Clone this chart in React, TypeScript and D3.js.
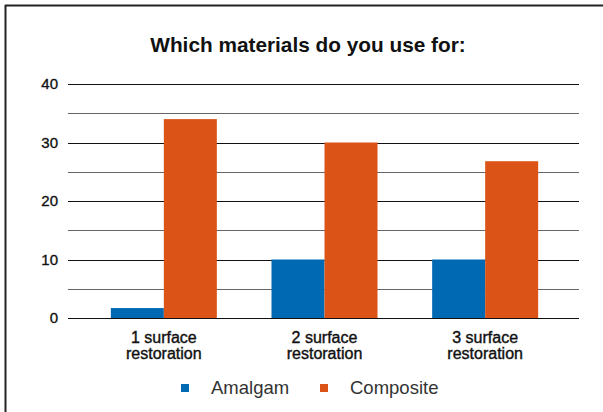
import React from "react";
import * as d3 from "d3";

const categories = ["1 surface|restoration", "2 surface|restoration", "3 surface|restoration"];
const seriesNames = ["Amalgam", "Composite"];
const amalgam = [1.7, 10, 10];
const composite = [34, 30, 26.8];
const yTicks = [0, 10, 20, 30, 40];
const gridValues = [0, 5, 10, 15, 20, 25, 30, 35, 40];
const colors = ["#0069b4", "#db5316"];

export default function App() {
  const W = 603, H = 412;
  const y = d3.scaleLinear().domain([0, 40]).range([318, 84]);
  const x0 = d3.scaleBand<string>().domain(categories).range([83.5, 565.5]).paddingInner(0).paddingOuter(0);
  const groupW = 106;
  const x1 = d3.scaleBand<string>().domain(seriesNames).range([0, groupW]).padding(0);
  const data = [amalgam, composite];
  const font = "'Liberation Sans', Arial, Helvetica, sans-serif";
  return (
    <svg width={W} height={H} style={{ position: "absolute", left: 0, top: 0, background: "#fff" }} fontFamily={font}>
      <line x1={5.5} y1={5} x2={5.5} y2={H} stroke="#222" strokeWidth={2} />
      <line x1={5} y1={5.5} x2={W} y2={5.5} stroke="#222" strokeWidth={2} />
      <text x={308} y={52} textAnchor="middle" fontSize={20.8} fontWeight="bold" fill="#111">
        Which materials do you use for:
      </text>
      {gridValues.map((v) => (
        <line key={v} x1={68} x2={579} y1={Math.round(y(v)) + 0.5} y2={Math.round(y(v)) + 0.5}
          stroke={v % 10 === 0 ? "#111" : "#666"} strokeWidth={1} />
      ))}
      {yTicks.map((v) => (
        <text key={v} x={58} y={y(v) + 5} textAnchor="end" fontSize={15} fill="#111" stroke="#111" strokeWidth={0.35}>{v}</text>
      ))}
      {categories.map((c, i) => {
        const cx = (x0(c) as number) + x0.bandwidth() / 2;
        const gx = cx - groupW / 2;
        return (
          <g key={c}>
            {seriesNames.map((s, j) => (
              <rect key={s} x={gx + (x1(s) as number)} width={x1.bandwidth()}
                y={y(data[j][i])} height={y(0) - y(data[j][i])} fill={colors[j]} />
            ))}
            {c.split("|").map((line, k) => (
              <text key={k} x={cx} y={343 + k * 16} textAnchor="middle" fontSize={16} fill="#111" stroke="#111" strokeWidth={0.4}>{line}</text>
            ))}
          </g>
        );
      })}
      {seriesNames.map((s, j) => {
        const lx = j === 0 ? 181 : 320;
        return (
          <g key={s}>
            <rect x={lx} y={384} width={8} height={8} fill={colors[j]} />
            <text x={lx + 30} y={394} fontSize={18.5} fill="#333">{s}</text>
          </g>
        );
      })}
    </svg>
  );
}
